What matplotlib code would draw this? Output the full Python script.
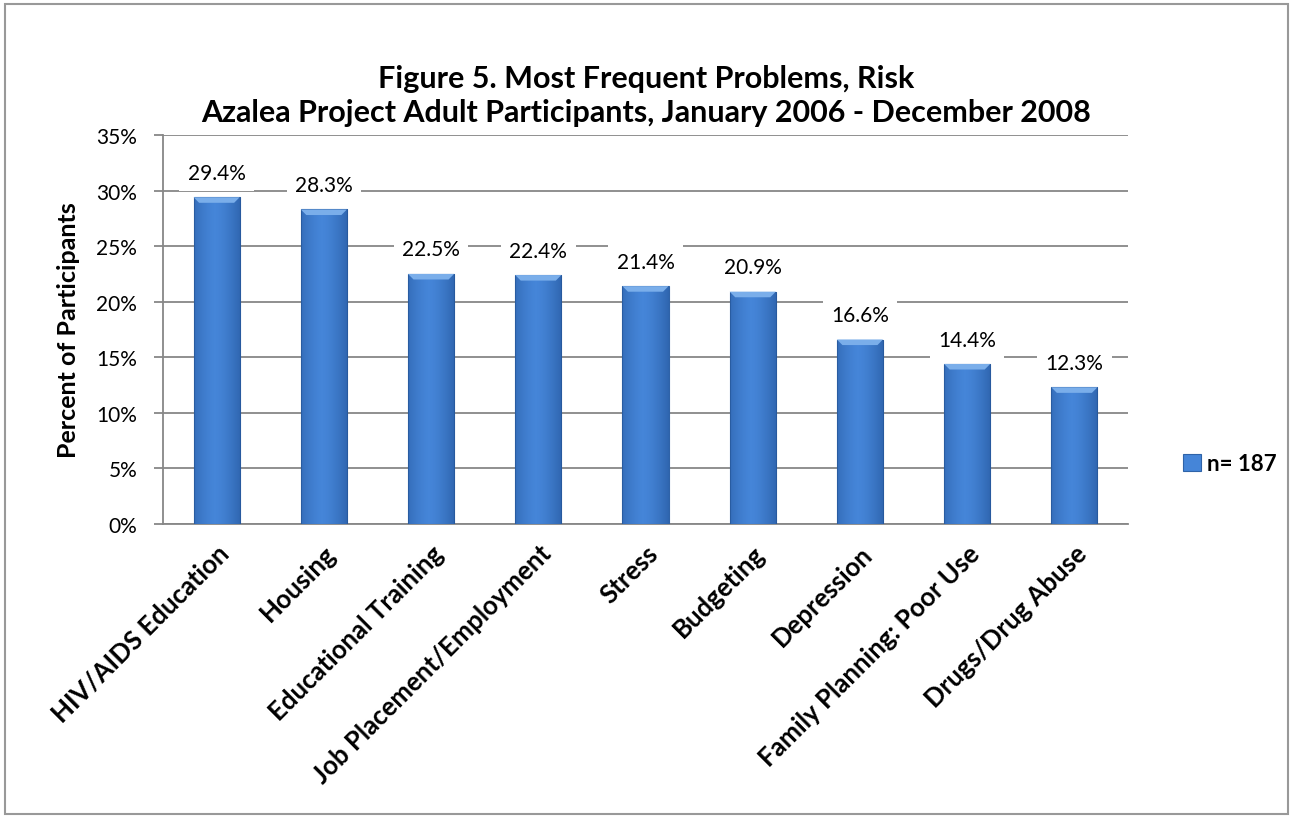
import numpy as np
import matplotlib.pyplot as plt
from matplotlib.patches import Rectangle

plt.rcParams['font.family'] = ['Lato', 'DejaVu Sans']

# data
categories = ['HIV/AIDS Education', 'Housing', 'Educational Training',
              'Job Placement/Employment', 'Stress', 'Budgeting', 'Depression',
              'Family Planning: Poor Use', 'Drugs/Drug Abuse']
values = [29.4, 28.3, 22.5, 22.4, 21.4, 20.9, 16.6, 14.4, 12.3]
yticks = [0, 5, 10, 15, 20, 25, 30, 35]
legend_label = 'n= 187'

fig = plt.figure(figsize=(12.93, 8.2), dpi=100)
ax = fig.add_axes([163 / 1293, 1 - 525 / 820, (1128 - 163) / 1293, (525 - 136) / 820])

# outer border
fig.patches.append(Rectangle((5 / 1293, 5 / 820), 1283 / 1293, 810 / 820,
                             transform=fig.transFigure, fill=False,
                             edgecolor='#999999', lw=1.5))

x = np.arange(len(categories))
bars = ax.bar(x, values, width=0.43, color='#4585d8', edgecolor='#2f63a8',
              lw=0.8, zorder=3, label=legend_label)

# horizontal shading on each bar
grad = np.linspace(0, 1, 64)
shade = np.abs(grad - 0.45) * 2
cmap_img = np.zeros((1, 64, 4))
cmap_img[0, :, 0] = 0.14
cmap_img[0, :, 1] = 0.33
cmap_img[0, :, 2] = 0.60
cmap_img[0, :, 3] = shade ** 1.5 * 0.55
for b in bars:
    x0, w, h = b.get_x(), b.get_width(), b.get_height()
    im = ax.imshow(cmap_img, extent=[x0, x0 + w, 0, h], aspect='auto', zorder=4,
                   interpolation='bicubic')
    im.set_clip_path(b)
    # top bevel
    ax.fill([x0, x0 + w, x0 + w * 0.88, x0 + w * 0.12], [h, h, h - 0.5, h - 0.5],
            color='#7aaeea', zorder=5, lw=0)

for xi, v in zip(x, values):
    ax.text(xi, v + 1.3, f'{v:.1f}%', ha='center', va='bottom', fontsize=15,
            zorder=6, bbox=dict(facecolor='white', edgecolor='none', pad=6))

ax.set_xlim(-0.5, len(categories) - 0.5)
ax.set_ylim(0, 35)
ax.set_yticks(yticks)
ax.set_yticklabels([f'{t}%' for t in yticks], fontsize=15)
ax.set_xticks(x)
ax.set_xticklabels(categories, rotation=45, ha='right', rotation_mode='anchor',
                   fontsize=18.5, fontweight='bold')
ax.tick_params(axis='y', length=6.5, width=1.3, color='#878787', pad=12)
ax.tick_params(axis='x', length=0, pad=12)
ax.grid(axis='y', color='#878787', lw=1.3, zorder=0)
for s in ['top', 'right']:
    ax.spines[s].set_visible(False)
for s in ['left', 'bottom']:
    ax.spines[s].set_color('#878787')
    ax.spines[s].set_linewidth(1.3)
ax.set_ylabel('Percent of Participants', fontsize=18, fontweight='bold', labelpad=12)

fig.text(0.5, 1 - 88 / 820, 'Figure 5. Most Frequent Problems, Risk',
         ha='center', va='baseline', fontsize=22, fontweight='bold')
fig.text(0.5, 1 - 122 / 820, 'Azalea Project Adult Participants, January 2006 - December 2008',
         ha='center', va='baseline', fontsize=22, fontweight='bold')

leg = fig.legend(loc='center left', bbox_to_anchor=(1163 / 1293, 1 - 465 / 820),
                 frameon=False, prop={'size': 16, 'weight': 'bold'},
                 handlelength=0.8, handleheight=0.8, handletextpad=0.3)

fig.savefig('out.png', dpi=100)
